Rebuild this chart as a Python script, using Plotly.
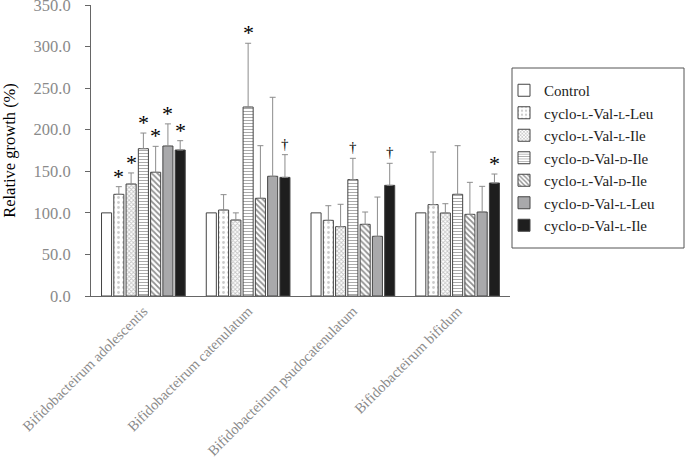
import plotly.graph_objects as go

groups = ["Bifidobacteirum adolescentis", "Bifidobacteirum catenulatum",
          "Bifidobacteirum psudocatenulatum", "Bifidobacteirum bifidum"]

def sc(c):
    return '<span style="font-size:11px">' + c + '</span>'

series = ["Control",
          "cyclo-" + sc("L") + "-Val-" + sc("L") + "-Leu",
          "cyclo-" + sc("L") + "-Val-" + sc("L") + "-Ile",
          "cyclo-" + sc("D") + "-Val-" + sc("D") + "-Ile",
          "cyclo-" + sc("L") + "-Val-" + sc("D") + "-Ile",
          "cyclo-" + sc("D") + "-Val-" + sc("L") + "-Leu",
          "cyclo-" + sc("D") + "-Val-" + sc("L") + "-Ile"]

control = [100, 100, 100, 100]
l_val_l_leu = [122.3, 103.4, 91.0, 109.9]
l_val_l_ile = [134.7, 91.4, 83.4, 99.8]
d_val_d_ile = [177.2, 227.3, 140.0, 122.3]
l_val_d_ile = [148.8, 117.5, 86.2, 98.2]
d_val_l_leu = [180.4, 144.0, 71.8, 101.0]
d_val_l_ile = [175.6, 142.7, 133.1, 135.9]

err_control = [0, 0, 0, 0]
err_l_val_l_leu = [9.2, 18.5, 17.6, 63.3]
err_l_val_l_ile = [13.3, 8.6, 26.9, 11.2]
err_d_val_d_ile = [18.8, 76.7, 25.6, 58.5]
err_l_val_d_ile = [31.2, 63.3, 14.8, 38.5]
err_d_val_l_leu = [26.6, 95.0, 47.2, 30.9]
err_d_val_l_ile = [11.2, 27.3, 26.5, 10.8]

sig_control = ["", "", "", ""]
sig_l_val_l_leu = ["*", "", "", ""]
sig_l_val_l_ile = ["*", "", "", ""]
sig_d_val_d_ile = ["*", "*", "†", ""]
sig_l_val_d_ile = ["*", "", "", ""]
sig_d_val_l_leu = ["*", "", "", ""]
sig_d_val_l_ile = ["*", "†", "†", "*"]

values = [control, l_val_l_leu, l_val_l_ile, d_val_d_ile, l_val_d_ile, d_val_l_leu, d_val_l_ile]
errors = [err_control, err_l_val_l_leu, err_l_val_l_ile, err_d_val_d_ile, err_l_val_d_ile, err_d_val_l_leu, err_d_val_l_ile]
sigs = [sig_control, sig_l_val_l_leu, sig_l_val_l_ile, sig_d_val_d_ile, sig_l_val_d_ile, sig_d_val_l_leu, sig_d_val_l_ile]

styles = [
    dict(color="white", pattern=None),
    dict(color="white", pattern=dict(shape=".", fgcolor="#9a9a9a", size=5, solidity=0.25, fillmode="overlay")),
    dict(color="white", pattern=dict(shape="x", fgcolor="#8a8a8a", size=3, solidity=0.5, fillmode="overlay")),
    dict(color="white", pattern=dict(shape="-", fgcolor="#555555", size=3, solidity=0.35, fillmode="overlay")),
    dict(color="white", pattern=dict(shape="\\", fgcolor="#222222", size=4, solidity=0.45, fillmode="overlay")),
    dict(color="#a9a9ab", pattern=None),
    dict(color="#1e1e1e", pattern=None),
]

xs = list(range(len(groups)))
fig = go.Figure()
for i, name in enumerate(series):
    st = styles[i]
    marker = dict(color=st["color"], line=dict(color="#444444", width=1))
    if st["pattern"]:
        marker["pattern"] = st["pattern"]
    fig.add_trace(go.Bar(
        x=xs, y=values[i], name=name, marker=marker,
        error_y=dict(type="data", array=errors[i], arrayminus=[0]*4, symmetric=False,
                     color="#8c8c8c", thickness=1, width=3,
                     visible=any(e > 0 for e in errors[i])),
    ))

bargap = 0.18
slot = (1 - bargap) / len(series)
for i in range(len(series)):
    for g in xs:
        s = sigs[i][g]
        if not s:
            continue
        xpos = g - (1 - bargap) / 2 + slot * (i + 0.5)
        top = values[i][g] + errors[i][g]
        fig.add_annotation(x=xpos, y=top, text=s, showarrow=False,
                           xanchor="center", yanchor="bottom",
                           yshift=-4 if s == "*" else 1,
                           font=dict(family="Liberation Serif", size=22 if s == "*" else 15, color="#000000"))

# legend frame
fig.add_shape(type="rect", xref="paper", yref="paper",
              x0=(512 - 91) / 419, x1=(684 - 91) / 419,
              y0=(296 - 248) / 291, y1=(296 - 68) / 291,
              line=dict(color="#555555", width=1), fillcolor="rgba(0,0,0,0)")

fig.update_layout(
    width=685, height=461,
    margin=dict(l=91, r=175, t=5, b=165),
    barmode="group", bargap=bargap, bargroupgap=0.18,
    plot_bgcolor="white", paper_bgcolor="white",
    font=dict(family="Liberation Serif", color="black"),
    legend=dict(x=(504 - 91) / 419, y=(296 - 74) / 291, xanchor="left", yanchor="top",
                borderwidth=0, bgcolor="rgba(0,0,0,0)",
                font=dict(family="Liberation Serif", size=15, color="#222222"),
                tracegroupgap=0, itemwidth=30, entrywidth=140),
    showlegend=True,
)
fig.update_xaxes(tickvals=xs, ticktext=groups, tickangle=-45, range=[-0.5, 3.5], automargin=False,
                 showline=True, linecolor="#666666", linewidth=1, ticks="",
                 tickfont=dict(family="Liberation Serif", size=14.5, color="#8a8a8a"))
fig.update_yaxes(range=[0, 350], dtick=50, tickformat=".1f", showgrid=False, zeroline=False, automargin=False,
                 showline=True, linecolor="#666666", linewidth=1, ticks="outside", ticklen=5,
                 tickcolor="#666666", ticklabelstandoff=11, ticklabeloverflow="allow",
                 tickfont=dict(family="Liberation Serif", size=16.5, color="#8a8a8a"),
                 title=dict(text="Relative growth (%)", font=dict(family="Liberation Serif", size=16.5, color="black"),
                            standoff=18))

fig.write_html("out.html", config={"displayModeBar": False},
               post_script="document.body.style.margin='0';document.body.style.overflow='hidden';")
